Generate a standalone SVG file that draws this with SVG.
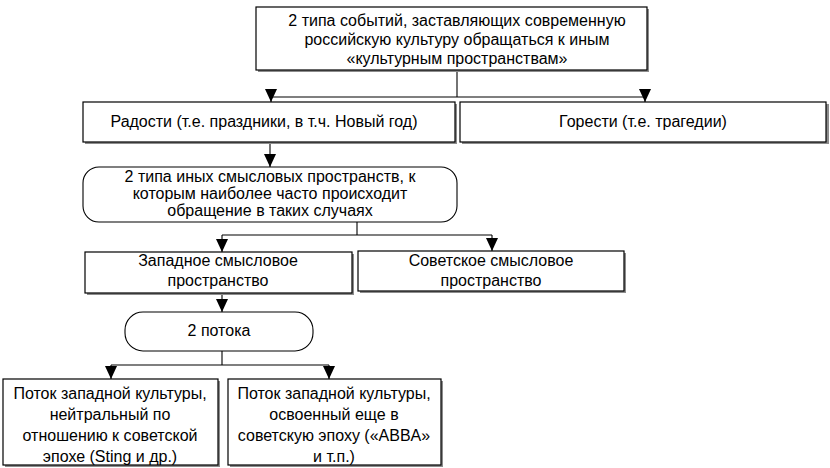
<svg xmlns="http://www.w3.org/2000/svg" width="830" height="468" viewBox="0 0 830 468">
<style>
.box{fill:#fff;stroke:#000;stroke-width:1.2}
.sh{fill:#8c8c8c}
.rb{fill:#fff;stroke:#000;stroke-width:1.1}
.t{font-family:"Liberation Sans",Arial,sans-serif;font-size:16px;fill:#000;text-anchor:middle}
.ln{fill:none;stroke:#000;stroke-width:1.1}
</style>
<defs>
<marker id="ah" markerWidth="13" markerHeight="12" refX="13" refY="6" orient="auto" markerUnits="userSpaceOnUse" viewBox="0 0 13 12">
<path d="M0,0 L13,6 L0,12 Z" fill="#000"/>
</marker>
</defs>
<rect width="830" height="468" fill="#fff"/>
<g id="connectors">
<path class="ln" d="M457,70 V97"/>
<path class="ln" d="M271,97 H645"/>
<path class="ln" d="M271,97 V102" marker-end="url(#ah)"/>
<path class="ln" d="M645,97 V102" marker-end="url(#ah)"/>
<path class="ln" d="M270,142 V167" marker-end="url(#ah)"/>
<path class="ln" d="M357,222 V235 M222,235 H492"/>
<path class="ln" d="M222,235 V252" marker-end="url(#ah)"/>
<path class="ln" d="M492,235 V251" marker-end="url(#ah)"/>
<path class="ln" d="M222,293 V312" marker-end="url(#ah)"/>
<path class="ln" d="M222,351 V365 M111,365 H329"/>
<path class="ln" d="M111,365 V379" marker-end="url(#ah)"/>
<path class="ln" d="M329,365 V379" marker-end="url(#ah)"/>
</g>
<g id="n-top">
<rect class="sh" x="258" y="9" width="391" height="63"/>
<rect class="box" x="256" y="7" width="391" height="63"/>
<text class="t" x="457" y="26">2 типа событий, заставляющих современную</text>
<text class="t" x="457" y="45">российскую культуру обращаться к иным</text>
<text class="t" x="457" y="64">«культурным пространствам»</text>
</g>
<g id="n-joy">
<rect class="sh" x="85" y="104" width="372" height="40"/>
<rect class="box" x="83" y="102" width="372" height="40"/>
<text class="t" x="264" y="127">Радости (т.е. праздники, в т.ч. Новый год)</text>
</g>
<g id="n-grief">
<rect class="sh" x="462" y="104" width="367" height="40"/>
<rect class="box" x="460" y="102" width="366" height="40"/>
<text class="t" x="643" y="127">Горести (т.е. трагедии)</text>
</g>
<g id="n-types">
<rect class="rb" x="83" y="167" width="374" height="55" rx="16" ry="16"/>
<text class="t" x="270" y="182">2 типа иных смысловых пространств, к</text>
<text class="t" x="270" y="199">которым наиболее часто происходит</text>
<text class="t" x="270" y="216">обращение в таких случаях</text>
</g>
<g id="n-west">
<rect class="sh" x="87" y="254" width="267" height="41"/>
<rect class="box" x="85" y="252" width="267" height="41"/>
<text class="t" x="218" y="266">Западное смысловое</text>
<text class="t" x="218" y="286">пространство</text>
</g>
<g id="n-soviet">
<rect class="sh" x="360" y="253" width="266" height="40"/>
<rect class="box" x="358" y="251" width="266" height="40"/>
<text class="t" x="491" y="266">Советское смысловое</text>
<text class="t" x="491" y="286">пространство</text>
</g>
<g id="n-flows">
<rect class="rb" x="125" y="312" width="188" height="39" rx="18" ry="18"/>
<text class="t" x="219" y="336">2 потока</text>
</g>
<g id="n-flow1">
<rect class="sh" x="5" y="381" width="215" height="86"/>
<rect class="box" x="3" y="379" width="215" height="86"/>
<text class="t" x="110" y="399">Поток западной культуры,</text>
<text class="t" x="110" y="420">нейтральный по</text>
<text class="t" x="110" y="441">отношению к советской</text>
<text class="t" x="110" y="462">эпохе (Sting и др.)</text>
</g>
<g id="n-flow2">
<rect class="sh" x="230" y="381" width="213" height="86"/>
<rect class="box" x="228" y="379" width="213" height="86"/>
<text class="t" x="334" y="399">Поток западной культуры,</text>
<text class="t" x="334" y="420">освоенный еще в</text>
<text class="t" x="334" y="441">советскую эпоху («ABBA»</text>
<text class="t" x="334" y="462">и т.п.)</text>
</g>
</svg>
